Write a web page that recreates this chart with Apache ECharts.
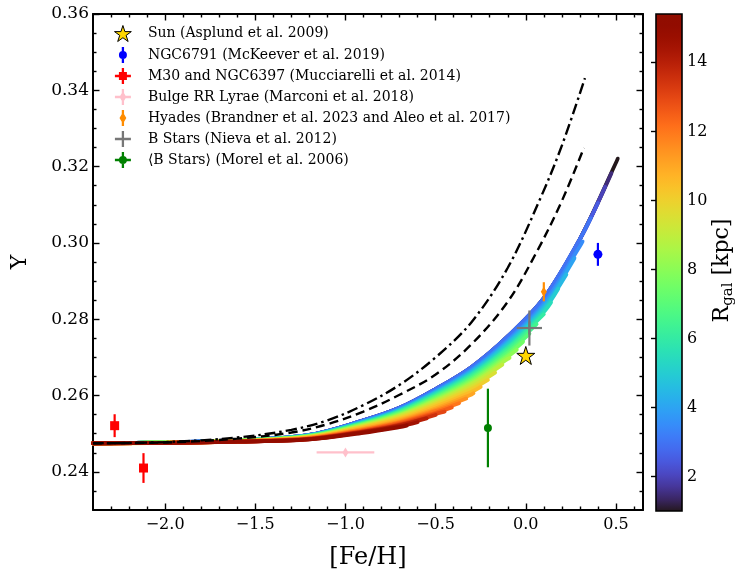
<!DOCTYPE html>
<html>
<head>
<meta charset="utf-8">
<script src="https://cdn.jsdelivr.net/npm/echarts/dist/echarts.min.js"></script>
<style>
html,body{margin:0;padding:0;background:#fff;}
#chart{width:748px;height:580px;}
</style>
</head>
<body>
<div id="chart"></div>
<script>
// ---------------- DATA ----------------
// model band: one curve per Galactocentric radius (kpc)
const fehGrid = [-2.4, -2.0, -1.6, -1.2, -0.9, -0.7, -0.5, -0.3, -0.1, 0.1, 0.3, 0.5];
const rgal = [1, 1.5, 2, 2.5, 3, 3.5, 4, 4.5, 5, 5.5, 6, 6.5, 7, 7.5, 8, 8.5, 9, 9.5, 10, 10.5, 11, 11.5, 12, 12.5, 13, 13.5, 14, 14.5, 15];
const fehEnd = [0.51, 0.475, 0.44, 0.40, 0.36, 0.315, 0.27, 0.225, 0.18, 0.14, 0.10, 0.06, 0.02, -0.015, -0.05,
                -0.09, -0.13, -0.17, -0.21, -0.25, -0.29, -0.33, -0.37, -0.41, -0.45, -0.50, -0.55, -0.60, -0.66];
// Y at the fehGrid points lying below each curve's end; last value = Y at fehEnd
const yR010 = [0.2475, 0.2477, 0.2483, 0.2497, 0.2535, 0.2568, 0.2617, 0.2675, 0.2755, 0.2855, 0.3010, 0.3210, 0.3221];
const yR015 = [0.2475, 0.2477, 0.2483, 0.2497, 0.2535, 0.2568, 0.2617, 0.2675, 0.2755, 0.2855, 0.3010, 0.3183];
const yR020 = [0.2475, 0.2477, 0.2483, 0.2497, 0.2535, 0.2568, 0.2617, 0.2675, 0.2755, 0.2855, 0.3010, 0.3147];
const yR025 = [0.2475, 0.2477, 0.2483, 0.2497, 0.2535, 0.2568, 0.2617, 0.2675, 0.2755, 0.2855, 0.3010, 0.3105];
const yR030 = [0.2475, 0.2477, 0.2483, 0.2497, 0.2535, 0.2568, 0.2617, 0.2675, 0.2755, 0.2855, 0.3010, 0.3065];
const yR035 = [0.2475, 0.2477, 0.2483, 0.2496, 0.2533, 0.2565, 0.2612, 0.2668, 0.2745, 0.2842, 0.2991, 0.3004];
const yR040 = [0.2475, 0.2477, 0.2483, 0.2496, 0.2532, 0.2563, 0.2610, 0.2665, 0.2741, 0.2836, 0.2960];
const yR045 = [0.2475, 0.2477, 0.2482, 0.2496, 0.2531, 0.2562, 0.2608, 0.2662, 0.2737, 0.2830, 0.2917];
const yR050 = [0.2475, 0.2477, 0.2482, 0.2495, 0.2530, 0.2561, 0.2606, 0.2659, 0.2733, 0.2825, 0.2880];
const yR055 = [0.2475, 0.2477, 0.2482, 0.2495, 0.2529, 0.2559, 0.2604, 0.2656, 0.2728, 0.2819, 0.2844];
const yR060 = [0.2475, 0.2477, 0.2482, 0.2495, 0.2528, 0.2558, 0.2601, 0.2653, 0.2724, 0.2813];
const yR065 = [0.2475, 0.2477, 0.2482, 0.2494, 0.2527, 0.2556, 0.2599, 0.2649, 0.2719, 0.2787];
const yR070 = [0.2475, 0.2477, 0.2482, 0.2494, 0.2526, 0.2554, 0.2596, 0.2645, 0.2713, 0.2762];
const yR075 = [0.2475, 0.2477, 0.2482, 0.2493, 0.2525, 0.2552, 0.2593, 0.2641, 0.2707, 0.2741];
const yR080 = [0.2475, 0.2477, 0.2481, 0.2493, 0.2524, 0.2550, 0.2590, 0.2637, 0.2702, 0.2720];
const yR085 = [0.2475, 0.2477, 0.2481, 0.2492, 0.2522, 0.2548, 0.2587, 0.2633, 0.2696, 0.2699];
const yR090 = [0.2475, 0.2477, 0.2481, 0.2492, 0.2521, 0.2547, 0.2584, 0.2629, 0.2681];
const yR095 = [0.2475, 0.2476, 0.2481, 0.2491, 0.2519, 0.2544, 0.2580, 0.2623, 0.2660];
const yR100 = [0.2475, 0.2476, 0.2481, 0.2491, 0.2518, 0.2541, 0.2576, 0.2617, 0.2641];
const yR105 = [0.2475, 0.2476, 0.2480, 0.2490, 0.2516, 0.2538, 0.2571, 0.2610, 0.2623];
const yR110 = [0.2475, 0.2476, 0.2480, 0.2489, 0.2513, 0.2535, 0.2566, 0.2603, 0.2606];
const yR115 = [0.2475, 0.2476, 0.2480, 0.2489, 0.2512, 0.2532, 0.2562, 0.2592];
const yR120 = [0.2475, 0.2476, 0.2480, 0.2488, 0.2510, 0.2530, 0.2559, 0.2580];
const yR125 = [0.2475, 0.2476, 0.2480, 0.2487, 0.2509, 0.2528, 0.2555, 0.2569];
const yR130 = [0.2475, 0.2476, 0.2479, 0.2487, 0.2507, 0.2525, 0.2552, 0.2558];
const yR135 = [0.2475, 0.2476, 0.2479, 0.2486, 0.2506, 0.2523, 0.2549];
const yR140 = [0.2475, 0.2476, 0.2479, 0.2486, 0.2505, 0.2522, 0.2540];
const yR145 = [0.2475, 0.2476, 0.2479, 0.2485, 0.2504, 0.2519, 0.2530];
const yR150 = [0.2475, 0.2476, 0.2479, 0.2485, 0.2502, 0.2517, 0.2521];
const bandY = [yR010, yR015, yR020, yR025, yR030, yR035, yR040, yR045, yR050, yR055, yR060, yR065, yR070, yR075, yR080,
               yR085, yR090, yR095, yR100, yR105, yR110, yR115, yR120, yR125, yR130, yR135, yR140, yR145, yR150];

// black reference curves
const dashDotFeh = [-2.4, -2.0, -1.6, -1.3, -1.1, -0.9, -0.7, -0.5, -0.3, -0.1, 0.08, 0.2, 0.328];
const dashDotY   = [0.2475, 0.2478, 0.2490, 0.2510, 0.2535, 0.2575, 0.2628, 0.2700, 0.2793, 0.2935, 0.3116, 0.3255, 0.3432];
const dashedFeh  = [-2.4, -2.0, -1.6, -1.3, -1.1, -0.9, -0.7, -0.5, -0.3, -0.1, 0.06, 0.2, 0.322];
const dashedY    = [0.2475, 0.2477, 0.2487, 0.2503, 0.2525, 0.2558, 0.2602, 0.2655, 0.2735, 0.2846, 0.2976, 0.3110, 0.3249];

// observations: [Fe/H], Y, xerr, yerr
const sunFeh = [0.0];   const sunY = [0.2705];
const ngcFeh = [0.40];  const ngcY = [0.2970];  const ngcXerr = [0];  const ngcYerr = [0.0030];
const m30Feh = [-2.28, -2.12]; const m30Y = [0.2521, 0.2410]; const m30Xerr = [0, 0]; const m30Yerr = [0.0030, 0.0039];
const rrFeh  = [-1.0];  const rrY  = [0.2451];  const rrXerr  = [0.16]; const rrYerr  = [0.0003];
const hyaFeh = [0.10];  const hyaY = [0.2872];  const hyaXerr = [0];  const hyaYerr = [0.0025];
const bsFeh  = [0.02];  const bsY  = [0.2777];  const bsXerr  = [0.07]; const bsYerr  = [0.0046];
const morFeh = [-0.21]; const morY = [0.2515];  const morXerr = [0];  const morYerr = [0.0103];

const legendNames = [
  'Sun (Asplund et al. 2009)',
  'NGC6791 (McKeever et al. 2019)',
  'M30 and NGC6397 (Mucciarelli et al. 2014)',
  'Bulge RR Lyrae (Marconi et al. 2018)',
  'Hyades (Brandner et al. 2023 and Aleo et al. 2017)',
  'B Stars (Nieva et al. 2012)',
  '\u27E8B Stars\u27E9 (Morel et al. 2006)'
];

// axis ticks
const xMajor = [-2.0, -1.5, -1.0, -0.5, 0.0, 0.5];
const yMajor = [0.24, 0.26, 0.28, 0.30, 0.32, 0.34, 0.36];
const cbMajor = [2, 4, 6, 8, 10, 12, 14];
const rMin = 1, rMax = 15.4;

// ---------------- HELPERS ----------------
function turbo(t) {
  t = Math.max(0, Math.min(1, t));
  const r = 0.13572138 + t*(4.61539260 + t*(-42.66032258 + t*(132.13108234 + t*(-152.94239396 + t*59.28637943))));
  const g = 0.09140261 + t*(2.19418839 + t*(4.84296658 + t*(-14.18503333 + t*(4.27729857 + t*2.82956604))));
  const b = 0.10667330 + t*(12.64194608 + t*(-60.58204836 + t*(110.36276771 + t*(-89.90310912 + t*27.34824973))));
  const c = v => Math.round(Math.max(0, Math.min(1, v)) * 255);
  return 'rgb(' + c(r) + ',' + c(g) + ',' + c(b) + ')';
}
function rColor(r) { return turbo((r - rMin) / (rMax - rMin)); }

function ticksBetween(a, b, step, majors) {
  const out = [];
  const n = Math.round((b - a) / step);
  for (let i = 0; i <= n; i++) {
    const v = +(a + i * step).toFixed(4);
    if (!majors.some(m => Math.abs(m - v) < 1e-6)) out.push(v);
  }
  return out;
}
const xMinor = ticksBetween(-2.3, 0.6, 0.1, xMajor);
const yMinor = ticksBetween(0.235, 0.355, 0.005, yMajor);
const cbMinor = ticksBetween(1.5, 15.0, 0.5, cbMajor);

const FONT = 'DejaVu Serif';

function errRender(params, api) {
  const x = api.value(0), y = api.value(1), xe = api.value(2), ye = api.value(3);
  const col = api.visual('color');
  const style = { stroke: col, lineWidth: 2.2 };
  const children = [];
  if (ye > 0) {
    const a = api.coord([x, y - ye]), b = api.coord([x, y + ye]);
    children.push({ type: 'line', shape: { x1: a[0], y1: a[1], x2: b[0], y2: b[1] }, style: style });
  }
  if (xe > 0) {
    const a = api.coord([x - xe, y]), b = api.coord([x + xe, y]);
    children.push({ type: 'line', shape: { x1: a[0], y1: a[1], x2: b[0], y2: b[1] }, style: style });
  }
  return { type: 'group', children: children };
}
function zip(xs, ys, xe, ye) {
  return xs.map((v, i) => [v, ys[i], xe ? xe[i] : 0, ye ? ye[i] : 0]);
}
function errSeries(name, xs, ys, xe, ye, color) {
  return {
    type: 'custom', name: name, xAxisIndex: 0, yAxisIndex: 0, z: 5,
    renderItem: errRender, data: zip(xs, ys, xe, ye),
    itemStyle: { color: color }, silent: true, clip: true
  };
}
function markSeries(name, xs, ys, symbol, size, color, extra) {
  return Object.assign({
    type: 'scatter', name: name, xAxisIndex: 0, yAxisIndex: 0, z: 6,
    data: xs.map((v, i) => [v, ys[i]]), symbol: symbol, symbolSize: size,
    itemStyle: { color: color, opacity: 1 }, silent: true
  }, extra || {});
}

const STAR = 'path://M0,-10L2.245,-3.09L9.51,-3.09L3.633,1.18L5.878,8.09L0,3.82L-5.878,8.09L-3.633,1.18L-9.51,-3.09L-2.245,-3.09Z';
const THIN_DIAMOND = 'path://M0,-10L6,0L0,10L-6,0Z';
const PLUS = 'path://M-1,-6L1,-6L1,6L-1,6Z M-6,-1L6,-1L6,1L-6,1Z';
const VBAR = 'M-1,-7L1,-7L1,7L-1,7Z ';
const HBAR = 'M-7,-1L7,-1L7,1L-7,1Z ';
const CIRC = 'M3.5,0A3.5,3.5,0,1,1,-3.5,0A3.5,3.5,0,1,1,3.5,0Z';
const SQR = 'M-3.5,-3.5L3.5,-3.5L3.5,3.5L-3.5,3.5Z';
const DIAM = 'M0,-5L3,0L0,5L-3,0Z';

// ---------------- AXES ----------------
const tickStyle = { color: '#000', width: 1.4 };
function xAx(pos, custom, len, labels, line) {
  return {
    type: 'value', gridIndex: 0, position: pos, min: -2.4, max: 0.65,
    axisLine: { show: line, onZero: false, lineStyle: { color: '#000', width: 2 } },
    axisTick: { show: true, inside: true, length: len, customValues: custom, lineStyle: tickStyle },
    axisLabel: labels ? {
      show: true, customValues: custom, margin: 7, color: '#000', fontFamily: FONT, fontSize: 16,
      formatter: v => (v < -1e-9 ? '\u2212' : '') + Math.abs(v).toFixed(1)
    } : { show: false },
    splitLine: { show: false }
  };
}
function yAx(pos, custom, len, labels, line) {
  return {
    type: 'value', gridIndex: 0, position: pos, min: 0.23, max: 0.36,
    axisLine: { show: line, onZero: false, lineStyle: { color: '#000', width: 2 } },
    axisTick: { show: true, inside: true, length: len, customValues: custom, lineStyle: tickStyle },
    axisLabel: labels ? {
      show: true, customValues: custom, margin: 4, color: '#000', fontFamily: FONT, fontSize: 17,
      formatter: v => v.toFixed(2)
    } : { show: false },
    splitLine: { show: false }
  };
}
const xAxes = [
  Object.assign(xAx('bottom', xMajor, 6.5, true, true), {
    name: '[Fe/H]', nameLocation: 'middle', nameGap: 36,
    nameTextStyle: { fontFamily: FONT, fontSize: 24, color: '#000' }
  }),
  xAx('bottom', xMinor, 3.5, false, false),
  xAx('top', xMajor, 6.5, false, true),
  xAx('top', xMinor, 3.5, false, false),
  { type: 'value', gridIndex: 1, min: 0, max: 1, show: false }
];
const yAxes = [
  Object.assign(yAx('left', yMajor, 6.5, true, true), {
    name: 'Y', nameLocation: 'middle', nameGap: 62, nameRotate: 90,
    nameTextStyle: { fontFamily: FONT, fontSize: 22, color: '#000' }
  }),
  yAx('left', yMinor, 3.5, false, false),
  yAx('right', yMajor, 6.5, false, true),
  yAx('right', yMinor, 3.5, false, false),
  {
    type: 'value', gridIndex: 1, position: 'right', min: rMin, max: rMax,
    axisLine: { show: false },
    axisTick: { show: true, inside: true, length: 5, customValues: cbMajor, lineStyle: tickStyle },
    axisLabel: { show: true, customValues: cbMajor, margin: 5, color: '#000', fontFamily: FONT, fontSize: 16 },
    splitLine: { show: false },
    name: 'R{sub|gal} [kpc]', nameLocation: 'middle', nameGap: 27, nameRotate: 90,
    nameTextStyle: {
      fontFamily: FONT, fontSize: 22, color: '#000', padding: [0, 16, 0, 0],
      rich: { sub: { fontFamily: FONT, fontSize: 15, color: '#000', padding: [12, 0, 0, 0] } }
    }
  },
  {
    type: 'value', gridIndex: 1, position: 'right', min: rMin, max: rMax,
    axisLine: { show: false },
    axisTick: { show: true, inside: true, length: 3, customValues: cbMinor, lineStyle: tickStyle },
    axisLabel: { show: false }, splitLine: { show: false }
  }
];

// ---------------- SERIES ----------------
const series = [];
bandY.forEach((ys, k) => {
  const pts = [];
  for (let i = 0; i < ys.length - 1; i++) pts.push([fehGrid[i], ys[i]]);
  pts.push([fehEnd[k], ys[ys.length - 1]]);
  series.push({
    type: 'line', name: 'R' + rgal[k], xAxisIndex: 0, yAxisIndex: 0, z: 2,
    data: pts, smooth: 0.35, showSymbol: false, silent: true,
    lineStyle: { color: rColor(rgal[k]), width: 3.8, cap: 'round' }
  });
});
series.push({
  type: 'line', name: 'dashdot', xAxisIndex: 0, yAxisIndex: 0, z: 3,
  data: dashDotFeh.map((v, i) => [v, dashDotY[i]]), smooth: 0.35, showSymbol: false, silent: true,
  lineStyle: { color: '#000', width: 2.4, type: [11, 4, 2.5, 4] }
});
series.push({
  type: 'line', name: 'dashed', xAxisIndex: 0, yAxisIndex: 0, z: 3,
  data: dashedFeh.map((v, i) => [v, dashedY[i]]), smooth: 0.35, showSymbol: false, silent: true,
  lineStyle: { color: '#000', width: 2.4, type: [9, 5] }
});

// observations
series.push(errSeries('e1', ngcFeh, ngcY, ngcXerr, ngcYerr, '#0000ff'));
series.push(errSeries('e2', m30Feh, m30Y, m30Xerr, m30Yerr, '#ff0000'));
series.push(errSeries('e3', rrFeh, rrY, rrXerr, rrYerr, '#ffc0cb'));
series.push(errSeries('e4', hyaFeh, hyaY, hyaXerr, hyaYerr, '#ff8c00'));
series.push(errSeries('e5', bsFeh, bsY, bsXerr, bsYerr, '#777777'));
series.push(errSeries('e6', morFeh, morY, morXerr, morYerr, '#008000'));

series.push(markSeries(legendNames[0], sunFeh, sunY, STAR, 18, '#FFD700', {
  itemStyle: { color: '#FFD700', borderColor: '#000', borderWidth: 1, opacity: 1 }, z: 7 }));
series.push(markSeries(legendNames[1], ngcFeh, ngcY, 'circle', 9, '#0000ff'));
series.push(markSeries(legendNames[2], m30Feh, m30Y, 'rect', 9, '#ff0000'));
series.push(markSeries(legendNames[3], rrFeh, rrY, THIN_DIAMOND, [6, 10], '#ffc0cb'));
series.push(markSeries(legendNames[4], hyaFeh, hyaY, THIN_DIAMOND, [6, 10], '#ff8c00'));
series.push(markSeries(legendNames[5], bsFeh, bsY, PLUS, 13, '#777777'));
series.push(markSeries(legendNames[6], morFeh, morY, 'circle', 8, '#008000'));

// colour bar
const cbStops = [];
for (let i = 0; i <= 40; i++) cbStops.push({ offset: i / 40, color: turbo(1 - i / 40) });
series.push({
  type: 'custom', name: 'colorbar', xAxisIndex: 4, yAxisIndex: 4, silent: true, z: 2,
  data: [[0, rMin, rMax]],
  renderItem: function (params, api) {
    const p0 = api.coord([0, api.value(2)]);
    const p1 = api.coord([1, api.value(1)]);
    return {
      type: 'rect',
      shape: { x: p0[0], y: p0[1], width: p1[0] - p0[0], height: p1[1] - p0[1] },
      style: {
        fill: new echarts.graphic.LinearGradient(0, 0, 0, 1, cbStops),
        stroke: '#000', lineWidth: 1.6
      }
    };
  }
});

// ---------------- CHART ----------------
const chart = echarts.init(document.getElementById('chart'), null, { renderer: 'canvas' });
chart.setOption({
  animation: false,
  backgroundColor: '#fff',
  grid: [
    { left: 93, right: 105, top: 14, bottom: 70 },
    { left: 656, width: 26, top: 14, bottom: 69 }
  ],
  xAxis: xAxes,
  yAxis: yAxes,
  legend: {
    show: true, orient: 'vertical', left: 109, top: 20,
    itemWidth: 36, itemHeight: 16, itemGap: 5, selectedMode: false,
    textStyle: { fontFamily: FONT, fontSize: 14, color: '#000', padding: [0, 0, 0, 2] },
    data: [
      { name: legendNames[0], icon: STAR, itemStyle: { color: '#FFD700', borderColor: '#000', borderWidth: 1 } },
      { name: legendNames[1], icon: 'path://' + VBAR + CIRC, itemStyle: { color: '#0000ff' } },
      { name: legendNames[2], icon: 'path://' + VBAR + HBAR + SQR, itemStyle: { color: '#ff0000' } },
      { name: legendNames[3], icon: 'path://' + VBAR + HBAR + DIAM, itemStyle: { color: '#ffc0cb' } },
      { name: legendNames[4], icon: 'path://' + VBAR + DIAM, itemStyle: { color: '#ff8c00' } },
      { name: legendNames[5], icon: 'path://' + VBAR + HBAR, itemStyle: { color: '#777777' } },
      { name: legendNames[6], icon: 'path://' + VBAR + HBAR + CIRC, itemStyle: { color: '#008000' } }
    ]
  },
  series: series
});
</script>
</body>
</html>
